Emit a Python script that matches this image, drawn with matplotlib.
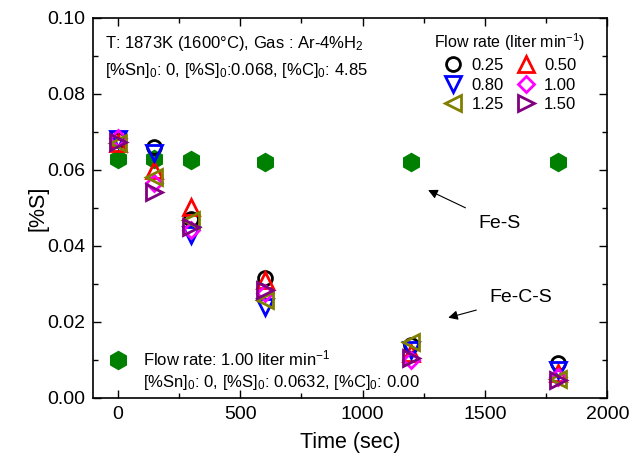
import matplotlib
matplotlib.use('Agg')
import matplotlib.pyplot as plt
from matplotlib.lines import Line2D
from matplotlib.ticker import MultipleLocator, FormatStrFormatter

plt.rcParams['font.family'] = ['Liberation Sans', 'DejaVu Sans']
plt.rcParams['mathtext.fontset'] = 'custom'
plt.rcParams['mathtext.rm'] = 'Liberation Sans'
plt.rcParams['mathtext.it'] = 'Liberation Sans:italic'

# sampling times (sec)
times = [0, 150, 300, 600, 1200, 1800]

# Fe-C-S melts, one series per Ar-4%H2 flow rate
flow_labels = ['0.25', '0.50', '0.80', '1.00', '1.25', '1.50']
s_025 = [0.0680, 0.0661, 0.0470, 0.0316, 0.0140, 0.0091]
s_050 = [0.0672, 0.0600, 0.0503, 0.0310, 0.0118, 0.0065]
s_080 = [0.0682, 0.0645, 0.0429, 0.0240, 0.0126, 0.0074]
s_100 = [0.0685, 0.0566, 0.0442, 0.0276, 0.0100, 0.0056]
s_125 = [0.0672, 0.0582, 0.0468, 0.0258, 0.0148, 0.0050]
s_150 = [0.0674, 0.0543, 0.0451, 0.0284, 0.0105, 0.0047]

# Fe-S melt, flow rate 1.00 liter/min
fes = [0.0630, 0.0630, 0.0625, 0.0622, 0.0620, 0.0620]

series = [s_025, s_050, s_080, s_100, s_125, s_150]
markers = ['o', '^', 'v', 'D', '<', '>']
colors = ['black', 'red', 'blue', 'magenta', 'olive', 'purple']
msizes = [10, 11, 11, 8, 11, 11]

fig = plt.figure(figsize=(6.3, 4.61), dpi=100)
ax = fig.add_axes([0.148, 0.137, 0.816, 0.824])

# green Fe-S points drawn first (underneath)
hexline, = ax.plot(times, fes, linestyle='none', marker='h', markersize=13,
                   color='green', markeredgecolor='green')

handles = []
for vals, m, c, ms, lab in zip(series, markers, colors, msizes, flow_labels):
    h, = ax.plot(times, vals, linestyle='none', marker=m, markersize=ms,
                 markerfacecolor='none', markeredgecolor=c, markeredgewidth=2,
                 label=lab)
    handles.append(h)

ax.set_xlim(-100, 2000)
ax.set_ylim(0, 0.10)
ax.xaxis.set_major_locator(MultipleLocator(500))
ax.xaxis.set_minor_locator(MultipleLocator(250))
ax.yaxis.set_major_locator(MultipleLocator(0.02))
ax.yaxis.set_minor_locator(MultipleLocator(0.01))
ax.yaxis.set_major_formatter(FormatStrFormatter('%.2f'))
ax.tick_params(which='both', direction='in', top=True, right=True, labelsize=14)
ax.tick_params(which='major', length=6, width=1, pad=6)
ax.tick_params(which='minor', length=3.5, width=1)
for sp in ax.spines.values():
    sp.set_linewidth(1.2)

ax.set_xlabel('Time (sec)', fontsize=15.5, labelpad=6)
ax.set_ylabel('[%S]', fontsize=15.5)
ax.yaxis.set_label_coords(-0.088, 0.5)

# condition text (top left)
ax.text(0.022, 0.957, 'T: 1873K (1600\u00b0C), Gas : Ar-4%H$_2$',
        transform=ax.transAxes, fontsize=12, va='top')
ax.text(0.022, 0.888, '[%Sn]$_0$: 0, [%S]$_0$:0.068, [%C]$_0$: 4.85',
        transform=ax.transAxes, fontsize=12, va='top')

# flow-rate legend (column-wise fill)
order = [0, 2, 4, 1, 3, 5]
leg = ax.legend([handles[i] for i in order], [flow_labels[i] for i in order],
                ncol=2, loc='upper right', bbox_to_anchor=(0.98, 0.995),
                title='Flow rate (liter min$^{-1}$)', title_fontsize=11.5,
                fontsize=12, frameon=False, handlelength=1.2,
                handletextpad=0.5, columnspacing=0.7, labelspacing=0.28,
                borderpad=0.2)
ax.add_artist(leg)

# Fe-S legend (bottom left)
blank = Line2D([], [], linestyle='none', marker='none')
leg2 = ax.legend([hexline, blank],
                 ['Flow rate: 1.00 liter min$^{-1}$',
                  '[%Sn]$_0$: 0, [%S]$_0$: 0.0632, [%C]$_0$: 0.00'],
                 loc='lower left', bbox_to_anchor=(0.0, -0.025),
                 fontsize=12, frameon=False, handlelength=1.2,
                 handletextpad=0.9, labelspacing=0.3, borderpad=0.4)

# arrows
ax.annotate('Fe-S', xy=(1268, 0.0547), xytext=(1472, 0.0458),
            fontsize=14, va='center', ha='left',
            arrowprops=dict(arrowstyle='-|>', color='black', lw=0.8,
                            mutation_scale=14, shrinkA=8, shrinkB=0))
ax.annotate('Fe-C-S', xy=(1350, 0.0211), xytext=(1520, 0.0263),
            fontsize=14, va='center', ha='left',
            arrowprops=dict(arrowstyle='-|>', color='black', lw=0.8,
                            mutation_scale=14, shrinkA=8, shrinkB=0))

fig.savefig('out.png', dpi=100)
